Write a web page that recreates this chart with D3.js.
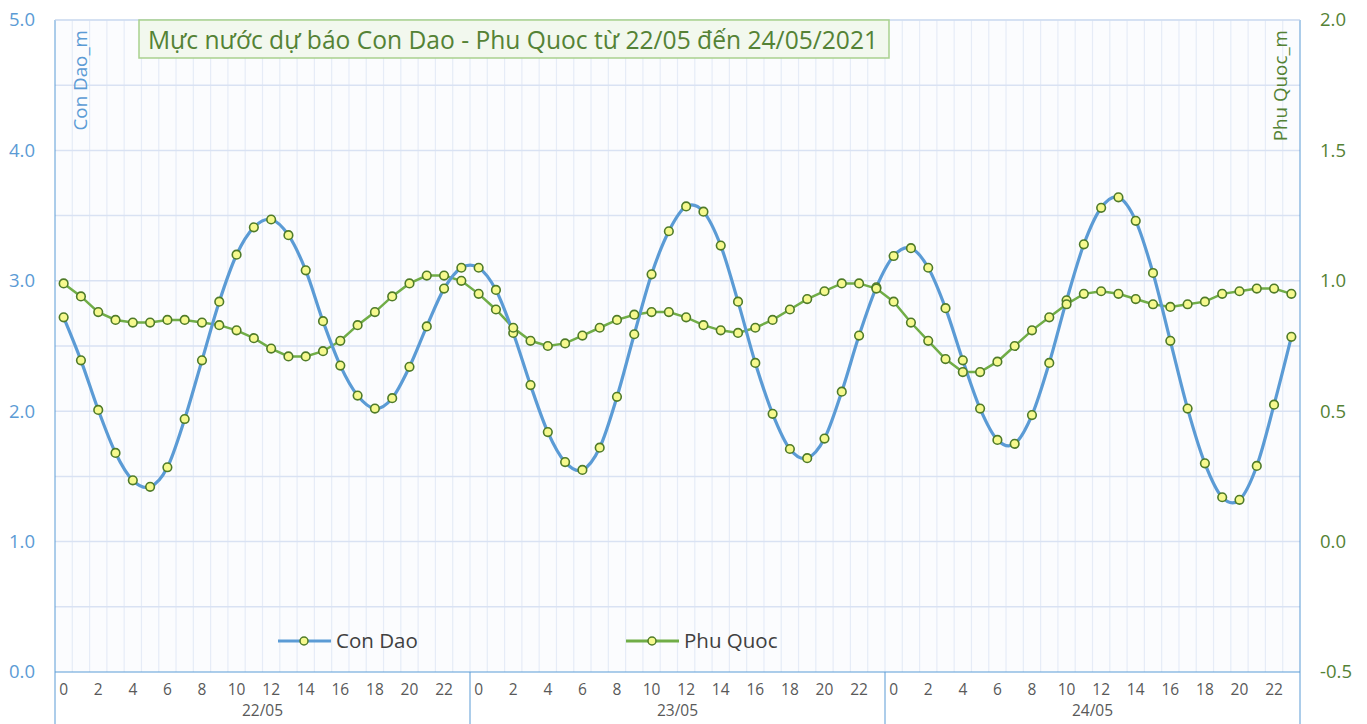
<!DOCTYPE html>
<html>
<head>
<meta charset="utf-8">
<script src="https://cdn.jsdelivr.net/npm/d3@7"></script>
<style>
  html, body { margin: 0; padding: 0; background: #ffffff; }
  svg { display: block; }
  text { font-family: "Open Sans", "Noto Sans", sans-serif; }
</style>
</head>
<body>
<svg id="chart" width="1367" height="724"></svg>
<script>
// ---------- DATA ----------
const days = ["22/05", "23/05", "24/05"];
const hours = d3.range(0, 24);
const conDao = [2.72,2.39,2.01,1.68,1.47,1.42,1.57,1.94,2.39,2.84,3.20,3.41,3.47,3.35,3.08,2.69,2.35,2.12,2.02,2.10,2.34,2.65,2.94,3.10,
  3.10,2.93,2.60,2.20,1.84,1.61,1.55,1.72,2.11,2.59,3.05,3.38,3.57,3.53,3.27,2.84,2.37,1.98,1.71,1.64,1.79,2.15,2.58,2.95,
  3.19,3.25,3.10,2.79,2.39,2.02,1.78,1.75,1.97,2.37,2.85,3.28,3.56,3.64,3.46,3.06,2.54,2.02,1.60,1.34,1.32,1.58,2.05,2.57];
const phuQuoc = [0.99,0.94,0.88,0.85,0.84,0.84,0.85,0.85,0.84,0.83,0.81,0.78,0.74,0.71,0.71,0.73,0.77,0.83,0.88,0.94,0.99,1.02,1.02,1.00,
  0.95,0.89,0.82,0.77,0.75,0.76,0.79,0.82,0.85,0.87,0.88,0.88,0.86,0.83,0.81,0.80,0.82,0.85,0.89,0.93,0.96,0.99,0.99,0.97,
  0.92,0.84,0.77,0.70,0.65,0.65,0.69,0.75,0.81,0.86,0.91,0.95,0.96,0.95,0.93,0.91,0.90,0.91,0.92,0.95,0.96,0.97,0.97,0.95];
const leftTicks = [0, 1, 2, 3, 4, 5];
const rightTicks = [-0.5, 0, 0.5, 1, 1.5, 2];
const hourLabels = [0,2,4,6,8,10,12,14,16,18,20,22];
const title = "Mực nước dự báo Con Dao - Phu Quoc từ 22/05 đến 24/05/2021";
const seriesNames = ["Con Dao", "Phu Quoc"];
const axisTitles = ["Con Dao_m", "Phu Quoc_m"];

// ---------- LAYOUT ----------
const L = 55, R = 1300, T = 20, B = 672;
const blue = "#5b9bd5", green = "#70ad47", dgreen = "#548235";
const svg = d3.select("#chart");

const keys = [];
days.forEach((d, di) => hours.forEach(h => keys.push(di * 24 + h)));
const x = d3.scaleBand().domain(keys).range([L, R]).paddingInner(0).paddingOuter(0);
const yL = d3.scaleLinear().domain([0, 5]).range([B, T]);
const yR = d3.scaleLinear().domain([-0.5, 2]).range([B, T]);
const cx = k => x(k) + x.bandwidth() / 2;

// plot background
svg.append("rect").attr("x", L).attr("y", T).attr("width", R - L).attr("height", B - T).attr("fill", "#fbfcfe");

// vertical gridlines at category boundaries
svg.append("g").selectAll("line").data(keys.slice(1)).join("line")
  .attr("x1", k => x(k)).attr("x2", k => x(k)).attr("y1", T).attr("y2", B)
  .attr("stroke", "#e6ecf7").attr("stroke-width", 1.2);

// horizontal gridlines
svg.append("g").selectAll("line").data(d3.range(0.5, 5.01, 0.5)).join("line")
  .attr("x1", L).attr("x2", R).attr("y1", d => yL(d)).attr("y2", d => yL(d))
  .attr("stroke", "#d9e2f3").attr("stroke-width", 1.5);

// axes lines
svg.append("line").attr("x1", L).attr("x2", L).attr("y1", T).attr("y2", 724).attr("stroke", blue).attr("stroke-width", 1);
svg.append("line").attr("x1", R).attr("x2", R).attr("y1", T).attr("y2", 724).attr("stroke", blue).attr("stroke-width", 1);
svg.append("line").attr("x1", L).attr("x2", R).attr("y1", B).attr("y2", B).attr("stroke", blue).attr("stroke-width", 1.2);
svg.append("line").attr("x1", L).attr("x2", R).attr("y1", T).attr("y2", T).attr("stroke", "#c9d9ef").attr("stroke-width", 1);

// day separators
svg.append("g").selectAll("line").data([24, 48]).join("line")
  .attr("x1", k => x(k)).attr("x2", k => x(k)).attr("y1", B).attr("y2", 724)
  .attr("stroke", blue).attr("stroke-width", 1);

// left ticks
svg.append("g").selectAll("text").data(leftTicks).join("text")
  .attr("x", 35).attr("y", d => yL(d)).attr("dy", "0.35em").attr("text-anchor", "end")
  .attr("fill", blue).attr("font-size", 18.5).text(d => d.toFixed(1));
// right ticks
svg.append("g").selectAll("text").data(rightTicks).join("text")
  .attr("x", 1320).attr("y", d => yR(d)).attr("dy", "0.35em").attr("text-anchor", "start")
  .attr("fill", dgreen).attr("font-size", 18.5).text(d => d.toFixed(1));

// hour labels
const hourKeys = keys.filter(k => hourLabels.includes(k % 24));
svg.append("g").selectAll("text").data(hourKeys).join("text")
  .attr("x", k => cx(k)).attr("y", 690).attr("dy", "0.35em").attr("text-anchor", "middle")
  .attr("fill", "#595959").attr("font-size", 15.5).text(k => k % 24);
// day labels
svg.append("g").selectAll("text").data(days).join("text")
  .attr("x", (d, i) => (x(i * 24) + x(i * 24 + 23) + x.bandwidth()) / 2).attr("y", 711).attr("dy", "0.35em")
  .attr("text-anchor", "middle").attr("fill", "#595959").attr("font-size", 15.5).text(d => d);

// axis titles
svg.append("text").attr("transform", "translate(87,30) rotate(-90)").attr("text-anchor", "end")
  .attr("fill", blue).attr("font-size", 18.8).text(axisTitles[0]);
svg.append("text").attr("transform", "translate(1287,30) rotate(-90)").attr("text-anchor", "end")
  .attr("fill", dgreen).attr("font-size", 18.8).text(axisTitles[1]);

// lines
const lineCD = d3.line().x((d, i) => cx(keys[i])).y(d => yL(d)).curve(d3.curveCardinal.tension(0));
const linePQ = d3.line().x((d, i) => cx(keys[i])).y(d => yR(d)).curve(d3.curveLinear);
svg.append("path").attr("d", linePQ(phuQuoc)).attr("fill", "none").attr("stroke", green).attr("stroke-width", 2.5);
svg.append("path").attr("d", lineCD(conDao)).attr("fill", "none").attr("stroke", blue).attr("stroke-width", 3.2);

function markers(data, yScale) {
  svg.append("g").selectAll("circle").data(data).join("circle")
    .attr("cx", (d, i) => cx(keys[i])).attr("cy", d => yScale(d)).attr("r", 4.3)
    .attr("fill", "#f6f98e").attr("stroke", "#4f7b28").attr("stroke-width", 1.6);
}
markers(conDao, yL);
markers(phuQuoc, yR);

// title box
const tg = svg.append("g");
tg.append("rect").attr("x", 139).attr("y", 20).attr("width", 750).attr("height", 38)
  .attr("fill", "#f2f8ee").attr("stroke", "#a9d18e").attr("stroke-width", 1.5);
tg.append("text").attr("x", 513).attr("y", 40).attr("dy", "0.35em").attr("text-anchor", "middle")
  .attr("fill", dgreen).attr("font-size", 24.6).text(title);

// legend
const legend = [
  {name: seriesNames[0], color: blue, x: 278},
  {name: seriesNames[1], color: green, x: 626}
];
const lg = svg.append("g").selectAll("g").data(legend).join("g");
lg.append("line").attr("x1", d => d.x).attr("x2", d => d.x + 53).attr("y1", 641).attr("y2", 641)
  .attr("stroke", d => d.color).attr("stroke-width", 3);
lg.append("circle").attr("cx", d => d.x + 26).attr("cy", 641).attr("r", 4)
  .attr("fill", "#f6f98e").attr("stroke", "#4f7b28").attr("stroke-width", 1.5);
lg.append("text").attr("x", d => d.x + 58).attr("y", 641).attr("dy", "0.35em")
  .attr("fill", "#404040").attr("font-size", 20.5).text(d => d.name);
</script>
</body>
</html>
